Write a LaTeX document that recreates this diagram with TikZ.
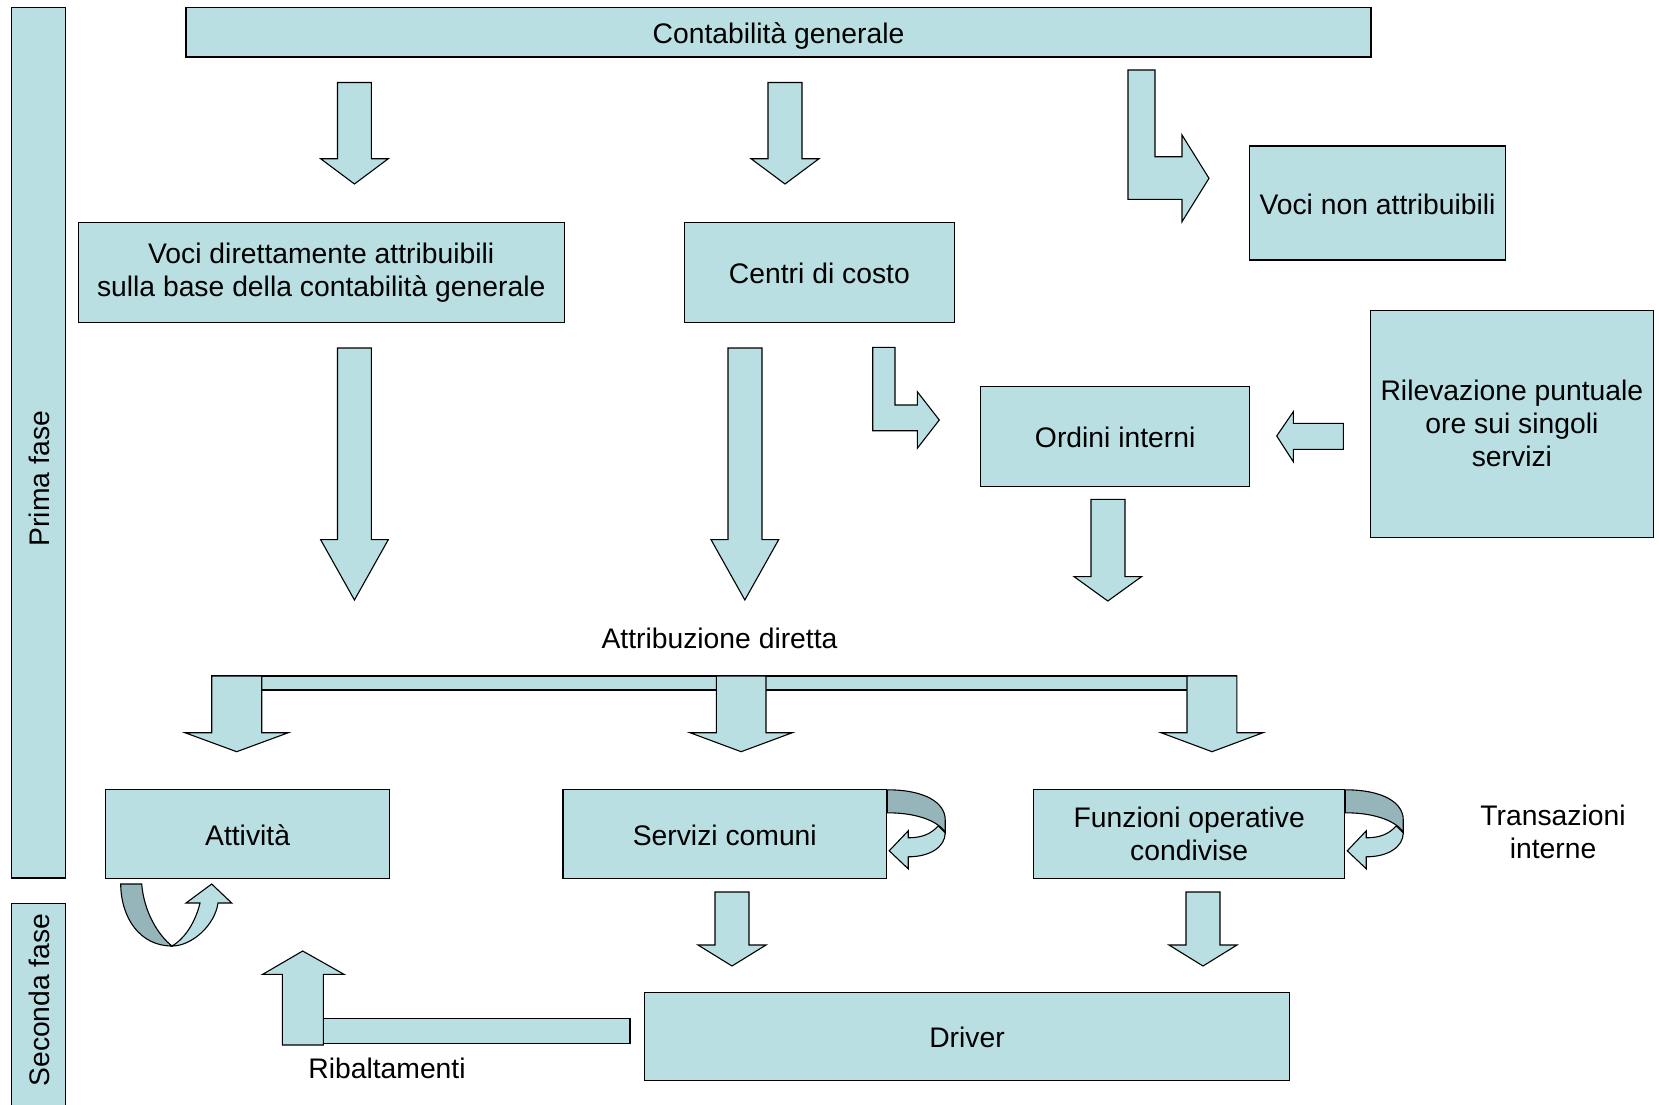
\documentclass[tikz,border=0pt]{standalone}
\usepackage{fontspec}
\setmainfont{Liberation Sans}
\usetikzlibrary{positioning}
\definecolor{boxfill}{RGB}{185,223,227}
\definecolor{bandfill}{RGB}{150,181,186}
% down block arrow: shaft left, shaft right, top, head base, head left, head right, tip
\newcommand{\blockdown}[7]{\draw[arrowshape] (#1,#3) -- (#2,#3) -- (#2,#4) -- (#6,#4) -- ({(#5+#6)/2},#7) -- (#5,#4) -- (#1,#4) -- cycle;}
% self loop on the right side of a box
\newcommand{\selfloop}[1]{%
\begin{scope}[shift={(#1.north east)}]
\draw[arrowshape,fill=bandfill] (0,1) .. controls (38,1) and (58,14) .. (58,31) -- (58,44) .. controls (55,37) and (38,24) .. (0,24) -- cycle;
\draw[arrowshape] (51,37) .. controls (44,45) and (35,49) .. (21,49) -- (21,42) -- (2,62) -- (21,80) -- (21,68) .. controls (43,68) and (58,58) .. (58,44) -- cycle;
\end{scope}}

\begin{document}
\begin{tikzpicture}[x=1pt,y=-1pt,line join=miter]
\tikzstyle{every node}=[font=\fontsize{28.3}{33}\selectfont]
\tikzstyle{box}=[draw,fill=boxfill,line width=1.1pt,align=center,inner sep=0pt]
\tikzstyle{oneline}=[text height=28pt,text depth=5pt]
\tikzstyle{arrowshape}=[draw,fill=boxfill,line width=1.1pt]
\useasboundingbox (0,0) rectangle (1659,1105);

% phase bars
\draw[arrowshape] (11.6,7.4) rectangle (65.6,878);
\draw[arrowshape] (11.6,903.5) rectangle (65.6,1110);
\node[rotate=90] (prima) at (39,478.7) {Prima fase};
\node[rotate=90] (seconda) at (39,1000) {Seconda fase};

% boxes
\node[box,oneline,minimum width=1185,minimum height=49.6] (contab) at (778.5,32.2) {Contabilità generale};
\node[box,minimum width=485.7,minimum height=100.7] (voci) at (321.2,272.4) {Voci direttamente attribuibili\\sulla base della contabilità generale};
\node[box,oneline,minimum width=269.8,minimum height=100.7] (centri) at (819.4,272.4) {Centri di costo};
\node[box,oneline,minimum width=256,minimum height=114] (nonattr) at (1377.5,203) {Voci non attribuibili};
\node[box,oneline,minimum width=268.7,minimum height=100.7] (ordini) at (1115.2,436.4) {Ordini interni};
\node[box,minimum width=283.7,minimum height=227.5] (rilev) at (1511.9,423.8) {Rilevazione puntuale\\ore sui singoli\\servizi};
\node[box,oneline,minimum width=283.5,minimum height=88.7] (attivita) at (247.6,833.7) {Attività};
\node[box,oneline,minimum width=323.7,minimum height=88.7] (servizi) at (724.8,833.7) {Servizi comuni};
\node[box,minimum width=311,minimum height=88.7] (funzioni) at (1189.2,833.7) {Funzioni operative\\condivise};
\node[box,oneline,minimum width=645.4,minimum height=87.8] (driver) at (967,1036.3) {Driver};

% labels
\node (attrib) at (719.5,638) {Attribuzione diretta};
\node[align=center] (transaz) at (1553,831.6) {Transazioni\\interne};
\node (ribalt) at (387,1068.6) {Ribaltamenti};

% first phase arrows
\blockdown{337.5}{371.4}{82.5}{158.7}{320.6}{388.3}{184}
\blockdown{768}{802}{82.5}{158.7}{751}{819}{184}
\blockdown{337.5}{371.4}{348}{539.6}{320.6}{388.3}{600}
\blockdown{728}{762}{348}{539.6}{711}{778.7}{600}
\blockdown{1091}{1125}{499.4}{576.6}{1074}{1141.6}{601}
\draw[arrowshape] (1128,70) -- (1155,70) -- (1155,156.7) -- (1182,156.7) -- (1182,135) -- (1209,178.3) -- (1182,221.7) -- (1182,199.3) -- (1128,199.3) -- cycle;
\draw[arrowshape] (872.7,347.3) -- (895,347.3) -- (895,405) -- (917.3,405) -- (917.3,391.7) -- (939.3,420) -- (917.3,448.3) -- (917.3,430.7) -- (872.7,430.7) -- cycle;
\draw[arrowshape] (1343.3,423.3) -- (1293.3,423.3) -- (1293.3,411.7) -- (1276.7,436) -- (1293.3,461.7) -- (1293.3,449.3) -- (1343.3,449.3) -- cycle;

% distribution bar
\draw[arrowshape] (211.7,676) rectangle (1236.8,690);
\blockdown{211.7}{261.7}{676}{732.7}{185}{288.3}{751.7}
\blockdown{716.3}{766}{676}{732.7}{690}{792.3}{751.7}
\blockdown{1187}{1236.8}{676}{732.7}{1161}{1263}{751.7}

% second phase
\blockdown{715}{749}{892}{945}{698}{766}{966}
\blockdown{1186}{1220}{892}{945}{1169}{1237}{966}
\draw[arrowshape] (323.3,1018.3) rectangle (630,1043.3);
\draw[arrowshape] (282.3,1045) -- (323.3,1045) -- (323.3,974.3) -- (344,974.3) -- (302.7,951) -- (262.7,974.3) -- (282.3,974.3) -- cycle;

% internal transactions
\selfloop{servizi}
\selfloop{funzioni}
\draw[arrowshape,fill=bandfill] (120.7,884) -- (141.7,884) .. controls (144,912) and (158,935) .. (172,946) .. controls (140,946) and (121,918) .. (120.7,884) -- cycle;
\draw[arrowshape] (172,946) .. controls (192,946) and (215,925) .. (218,903) -- (231.7,903) -- (211.7,884) -- (186,903) -- (200,903) .. controls (196,920) and (186,938) .. (172,946) -- cycle;
\end{tikzpicture}
\end{document}
